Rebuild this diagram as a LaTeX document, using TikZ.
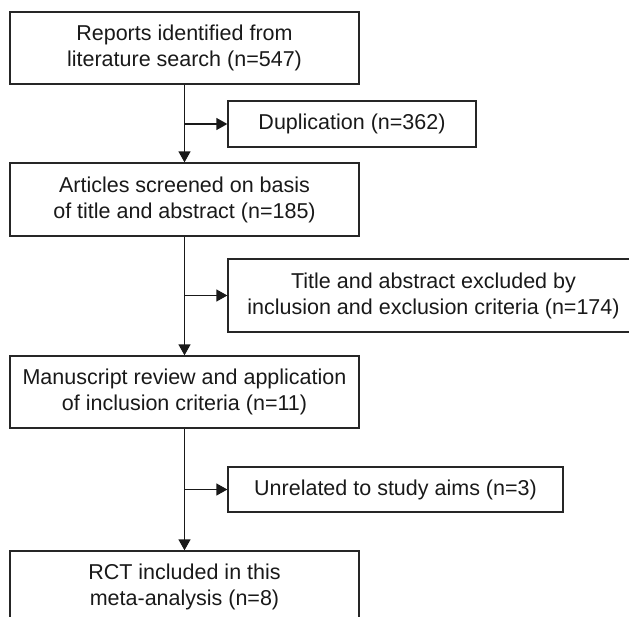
\documentclass[tikz,border=0pt]{standalone}
\usepackage{fontspec}
\setmainfont{Liberation Sans}
\usetikzlibrary{arrows.meta}
\begin{document}
\begin{tikzpicture}[x=1pt,y=-1pt,
  boxnode/.style={draw=black!85,line width=1.3pt,rectangle,inner sep=0pt,align=center,
    font=\fontsize{21.5}{26}\selectfont,text=black!90},
  conn/.style={draw=black!90,line width=1.3pt,-{Triangle[length=11pt,width=12pt]}}]
\useasboundingbox (0,0) rectangle (629,616);
\node[boxnode,minimum width=349pt,minimum height=72pt] (b1) at (184.5,48) {Reports identified from\\literature search (n=547)};
\node[boxnode,minimum width=248pt,minimum height=46pt] (dup) at (352,124) {Duplication (n=362)};
\node[boxnode,minimum width=349pt,minimum height=73pt] (b2) at (184.5,199.5) {Articles screened on basis\\of title and abstract (n=185)};
\node[boxnode,minimum width=411pt,minimum height=73pt] (tae) at (433.5,295.5) {Title and abstract excluded by\\inclusion and exclusion criteria (n=174)};
\node[boxnode,minimum width=349pt,minimum height=72pt] (b3) at (184.5,392) {Manuscript review and application\\of inclusion criteria (n=11)};
\node[boxnode,minimum width=335pt,minimum height=45pt] (unr) at (395.5,489.5) {Unrelated to study aims (n=3)};
\node[boxnode,minimum width=349pt,minimum height=72pt] (b4) at (184.5,587) {RCT included in this\\meta-analysis (n=8)};
\draw[conn] (b1.south) -- (b2.north);
\draw[conn] (b1.south |- dup.west) -- (dup.west);
\draw[conn] (b2.south) -- (b3.north);
\draw[conn] (b2.south |- tae.west) -- (tae.west);
\draw[conn] (b3.south) -- (b4.north);
\draw[conn] (b3.south |- unr.west) -- (unr.west);
\end{tikzpicture}
\end{document}
